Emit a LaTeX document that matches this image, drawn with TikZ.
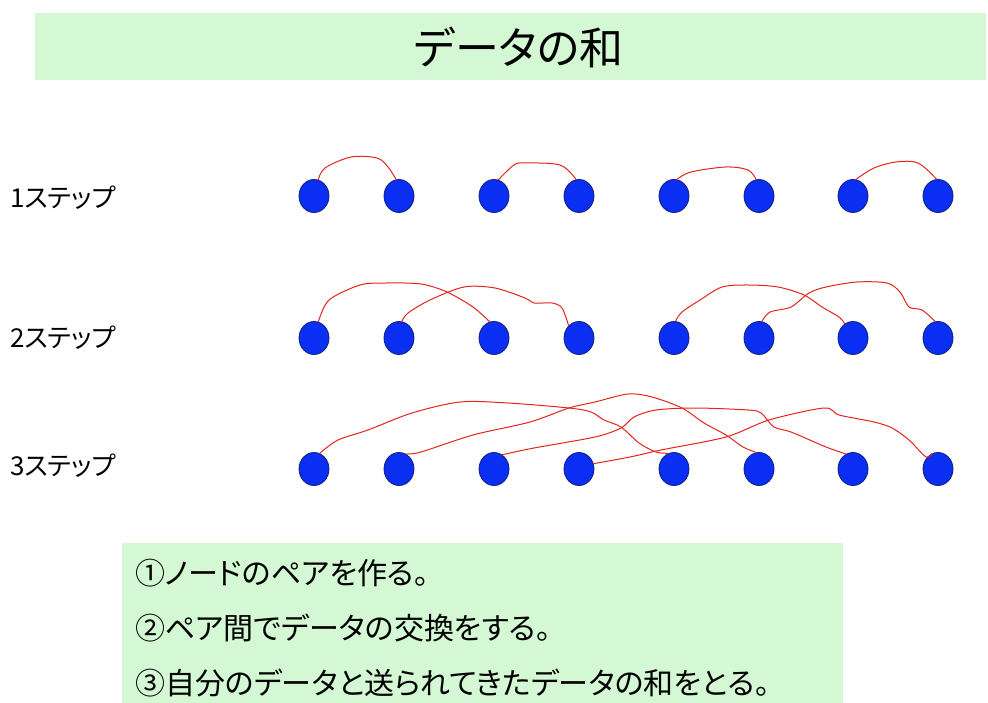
\documentclass[tikz,border=0pt]{standalone}
\usepackage{fontspec}
\usetikzlibrary{shapes.geometric}
\newfontfamily\jp[RawFeature=+palt]{Noto Sans CJK JP}
\definecolor{bandgreen}{HTML}{D3F8D3}
\definecolor{dotblue}{HTML}{0A2EF2}
\definecolor{dotedge}{HTML}{10207A}
\definecolor{linkred}{HTML}{E3241C}
\begin{document}
\begin{tikzpicture}[x=1pt,y=-1pt,
  dot/.style={ellipse, draw=dotedge, line width=0.8pt, fill=dotblue, minimum width=30pt, minimum height=33pt, inner sep=0pt},
  link/.style={draw=linkred, line width=1pt, line join=round, line cap=round},
  rowlabel/.style={font=\jp\fontsize{26}{26}\selectfont, anchor=west, inner sep=0pt},
  noteline/.style={font=\jp\fontsize{30}{30}\selectfont, anchor=west, inner sep=0pt}
]
\useasboundingbox (0,0) rectangle (988,703);
\node[fill=bandgreen, minimum width=951pt, minimum height=67pt, inner sep=0pt, anchor=north west] (band) at (35,13) {};
\node[font=\jp\fontsize{44}{44}\selectfont, inner sep=0pt] (title) at (519,47) {データの和};
\node[fill=bandgreen, minimum width=721pt, minimum height=160pt, inner sep=0pt, anchor=north west] (notes) at (122,543) {};

\node[rowlabel] (l1) at (10,198) {1ステップ};
\node[rowlabel] (l2) at (10,338) {2ステップ};
\node[rowlabel] (l3) at (10,466) {3ステップ};

\foreach \r/\y in {1/196,2/338,3/469}{
  \foreach \i/\x in {1/314,2/399,3/494,4/579,5/674,6/759,7/853,8/938}{
    \node[dot] (r\r n\i) at (\x,\y) {};
  }
}

% step 1
\draw[link] plot[smooth, tension=0.55] coordinates {(r1n1.75) (325,168) (351,157) (377,158) (388,167) (r1n2.100)};
\draw[link] plot[smooth, tension=0.55] coordinates {(r1n3.75) (514,165) (525,163) (560,165) (r1n4.100)};
\draw[link] plot[smooth, tension=0.55] coordinates {(r1n5.80) (691,172) (726,167) (748,170) (r1n6.100)};
\draw[link] plot[smooth, tension=0.55] coordinates {(r1n7.80) (874,168) (896,162) (918,163) (r1n8.95)};

% step 2
\draw[link] plot[smooth, tension=0.5] coordinates {(r2n1.75) (329,300) (360,285) (386,283) (421,284) (447,292) (473,307) (r2n3.105)};
\draw[link] plot[smooth, tension=0.5] coordinates {(r2n2.80) (408,313) (430,300) (464,287) (495,288) (525,298) (534,303) (552,303) (562,308) (r2n4.130)};
\draw[link] plot[smooth, tension=0.5] coordinates {(r2n5.85) (682,312) (700,300) (722,287) (748,285) (778,287) (804,295) (822,307) (839,317) (r2n7.120)};
\draw[link] plot[smooth, tension=0.5] coordinates {(r2n6.80) (770,312) (791,307) (809,293) (826,287) (857,282) (887,283) (900,292) (909,307) (922,310) (r2n8.100)};

% step 3
\draw[link] plot[smooth, tension=0.5] coordinates {(r3n1.70) (338,440) (368,430) (412,413) (460,402) (508,403) (569,408) (591,412) (604,420) (621,427) (639,443) (656,452) (r3n5.110)};
\draw[link] plot[smooth, tension=0.5] coordinates {(r3n2.65) (421,452) (473,435) (530,422) (569,408) (595,402) (628,394) (652,397) (682,408) (704,423) (726,435) (743,447) (r3n6.100)};
\draw[link] plot[smooth, tension=0.5] coordinates {(r3n3.60) (534,448) (595,437) (621,428) (634,417) (656,410) (695,408) (748,410) (761,413) (774,427) (791,432) (826,447) (r3n7.115)};
\draw[link] plot[smooth, tension=0.5] coordinates {(r3n4.20) (630,457) (661,450) (726,437) (769,420) (824,408) (839,415) (874,422) (892,428) (909,440) (926,457) (r3n8.110)};

\node[noteline] (t1) at (135,573) {①ノードのペアを作る。};
\node[noteline] (t2) at (135,628) {②ペア間でデータの交換をする。};
\node[noteline] (t3) at (135,683) {③自分のデータと送られてきたデータの和をとる。};
\end{tikzpicture}
\end{document}
